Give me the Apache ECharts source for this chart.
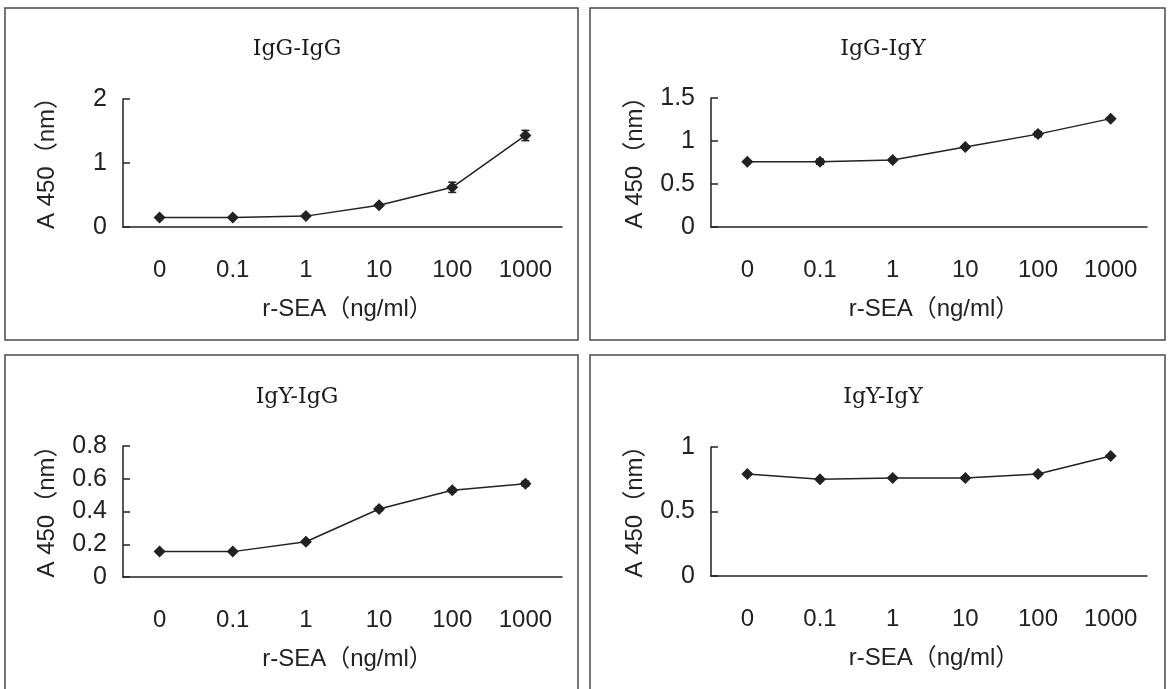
<!DOCTYPE html>
<html>
<head>
<meta charset="utf-8">
<script src="https://cdn.jsdelivr.net/npm/echarts@6/dist/echarts.min.js"></script>
<style>
  html, body { margin: 0; padding: 0; background: #fff; }
  #chart { width: 1170px; height: 689px; }
</style>
</head>
<body>
<div id="chart"></div>
<script>
// r-SEA concentrations (ng/ml) shared by all four assays
const concentrations = ['0', '0.1', '1', '10', '100', '1000'];

// Panel titles (capture antibody - detection antibody)
const titles = ['IgG-IgG', 'IgG-IgY', 'IgY-IgG', 'IgY-IgY'];

// Mean A450 readings per concentration
const igGIgG = [0.15, 0.15, 0.17, 0.34, 0.62, 1.43];
const igGIgY = [0.76, 0.76, 0.78, 0.93, 1.08, 1.26];
const igYIgG = [0.155, 0.155, 0.215, 0.415, 0.53, 0.57];
const igYIgY = [0.79, 0.75, 0.76, 0.76, 0.79, 0.93];

// Standard deviations (error bars)
const igGIgGErr = [0.01, 0.01, 0.01, 0.02, 0.08, 0.08];
const igGIgYErr = [0.01, 0.03, 0.01, 0.01, 0.03, 0.01];
const igYIgGErr = [0.005, 0.005, 0.01, 0.01, 0.01, 0.015];
const igYIgYErr = [0.01, 0.01, 0.01, 0.01, 0.01, 0.01];

// Y-axis ranges
const yMax = [2, 1.5, 0.8, 1];
const yStep = [1, 0.5, 0.2, 0.5];

const yAxisTitle = 'A 450（nm）';
const xAxisTitle = 'r-SEA（ng/ml）';

const means = [igGIgG, igGIgY, igYIgG, igYIgY];
const errs = [igGIgGErr, igGIgYErr, igYIgGErr, igYIgYErr];

const ink = '#222';
const sansFont = '"Liberation Sans", "Noto Sans CJK JP", Arial, sans-serif';

// Layout of the four framed panels
const panels = [
  { box: [5, 8, 573, 332],   grid: { left: 123, top: 99,  width: 439, height: 128 }, titleX: 292, titleY: 33 },
  { box: [590, 8, 575, 332], grid: { left: 711, top: 98,  width: 436, height: 129 }, titleX: 878, titleY: 33 },
  { box: [5, 355, 573, 345], grid: { left: 123, top: 446, width: 439, height: 131 }, titleX: 292, titleY: 381 },
  { box: [590, 355, 575, 345], grid: { left: 711, top: 447, width: 436, height: 129 }, titleX: 878, titleY: 381 }
];

const chart = echarts.init(document.getElementById('chart'), null, { renderer: 'canvas' });

const option = {
  backgroundColor: '#fff',
  animation: false,
  title: [],
  grid: [],
  xAxis: [],
  yAxis: [],
  series: [],
  graphic: []
};

panels.forEach((p, i) => {
  option.graphic.push({
    type: 'rect',
    shape: { x: p.box[0], y: p.box[1], width: p.box[2], height: p.box[3] },
    style: { fill: 'none', stroke: '#4a4a4a', lineWidth: 1.5 },
    silent: true,
    z: 0
  });

  option.title.push({
    text: titles[i],
    left: p.titleX,
    top: p.titleY,
    textAlign: 'center',
    textStyle: { fontFamily: '"DejaVu Serif", serif', fontSize: 22, fontWeight: 'normal', color: '#1a1a1a' }
  });

  option.grid.push(Object.assign({ containLabel: false }, p.grid));

  option.xAxis.push({
    type: 'category',
    gridIndex: i,
    data: concentrations,
    boundaryGap: true,
    name: xAxisTitle,
    nameLocation: 'middle',
    nameGap: 70,
    nameTextStyle: { fontFamily: sansFont, fontSize: 24, color: ink, padding: [0, 0, 0, 10] },
    axisLine: { lineStyle: { color: ink, width: 1.5 } },
    axisTick: { inside: true, length: 7, lineStyle: { color: ink, width: 1.5 } },
    axisLabel: { interval: 0, margin: 31, fontFamily: sansFont, fontSize: 24, color: ink },
    splitLine: { show: false }
  });

  option.yAxis.push({
    type: 'value',
    gridIndex: i,
    min: 0,
    max: yMax[i],
    interval: yStep[i],
    name: yAxisTitle,
    nameLocation: 'middle',
    nameRotate: 90,
    nameGap: 64,
    nameTextStyle: { fontFamily: sansFont, fontSize: 24, color: ink, padding: [0, 0, 0, 12] },
    axisLine: { show: true, lineStyle: { color: ink, width: 1.5 } },
    axisTick: { show: true, inside: true, length: 7, lineStyle: { color: ink, width: 1.5 } },
    axisLabel: { margin: 16, fontFamily: sansFont, fontSize: 25, color: ink },
    splitLine: { show: false }
  });

  option.series.push({
    type: 'line',
    xAxisIndex: i,
    yAxisIndex: i,
    data: means[i],
    symbol: 'diamond',
    symbolSize: 12,
    lineStyle: { color: ink, width: 1.5 },
    itemStyle: { color: ink },
    z: 3
  });

  // Error bars: vertical whisker with short caps
  option.series.push({
    type: 'custom',
    xAxisIndex: i,
    yAxisIndex: i,
    data: means[i].map((m, k) => [k, m - errs[i][k], m + errs[i][k]]),
    renderItem: function (params, api) {
      const lo = api.coord([api.value(0), api.value(1)]);
      const hi = api.coord([api.value(0), api.value(2)]);
      const cap = 4;
      const style = { stroke: ink, lineWidth: 1.5, fill: 'none' };
      return {
        type: 'group',
        children: [
          { type: 'line', shape: { x1: lo[0], y1: lo[1], x2: hi[0], y2: hi[1] }, style: style },
          { type: 'line', shape: { x1: lo[0] - cap, y1: lo[1], x2: lo[0] + cap, y2: lo[1] }, style: style },
          { type: 'line', shape: { x1: hi[0] - cap, y1: hi[1], x2: hi[0] + cap, y2: hi[1] }, style: style }
        ]
      };
    },
    z: 4
  });
});

chart.setOption(option);
</script>
</body>
</html>
